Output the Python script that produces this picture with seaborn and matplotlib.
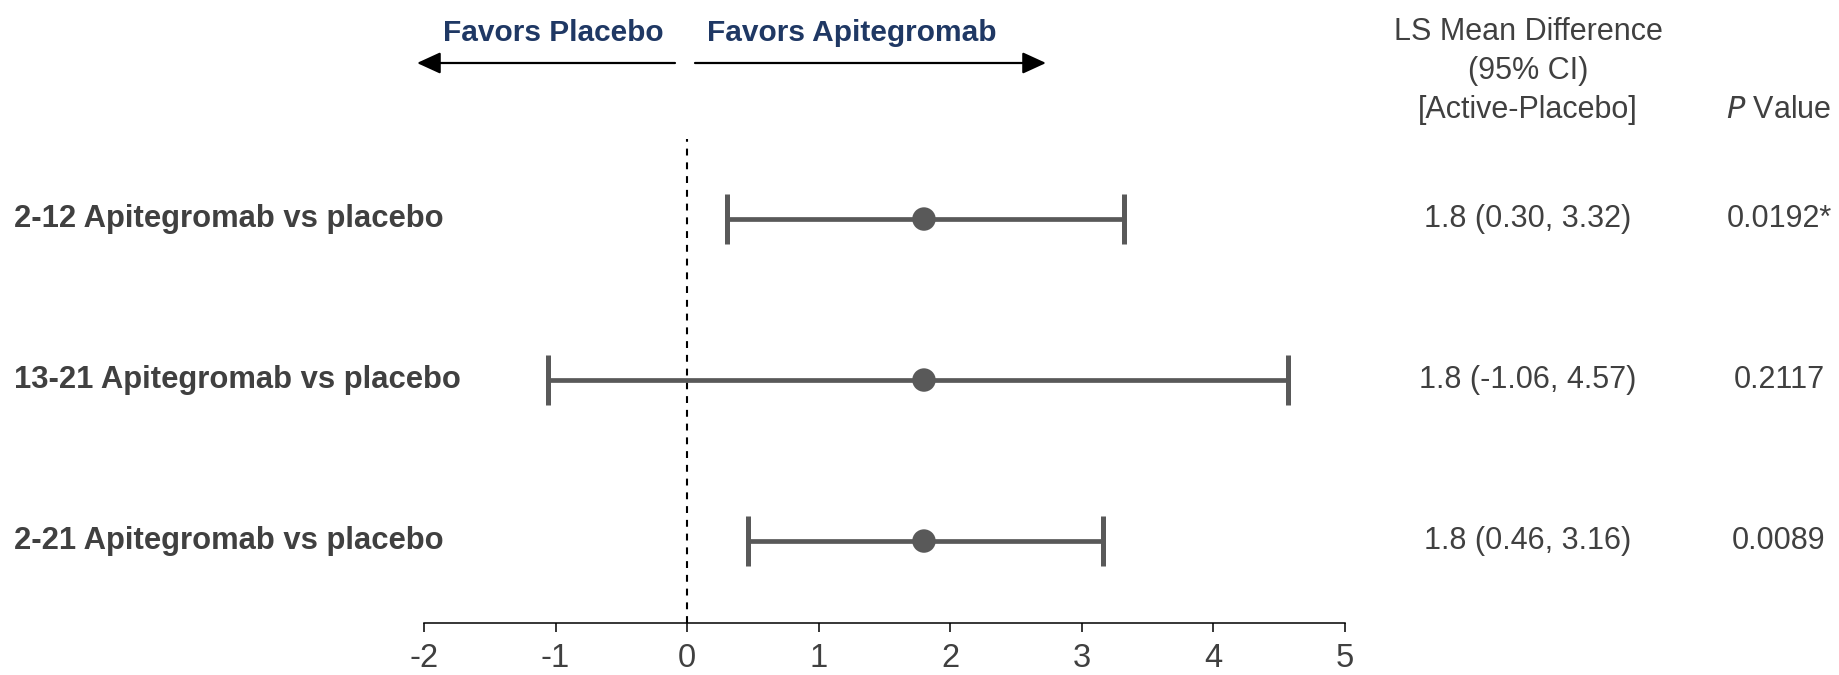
import numpy as np
import pandas as pd
import seaborn as sns
import matplotlib.pyplot as plt
import matplotlib.transforms as mtransforms

# forest plot data
labels = ["2-12 Apitegromab vs placebo",
          "13-21 Apitegromab vs placebo",
          "2-21 Apitegromab vs placebo"]
est = [1.8, 1.8, 1.8]
ci_lo = [0.30, -1.06, 0.46]
ci_hi = [3.32, 4.57, 3.16]
pvals = ["0.0192*", "0.2117", "0.0089"]
xticks = [-2, -1, 0, 1, 2, 3, 4, 5]

df = pd.DataFrame({"label": labels, "est": est, "lo": ci_lo, "hi": ci_hi, "p": pvals})
df["row"] = np.arange(len(df))

sns.set_theme(style="white")
plt.rcParams["font.family"] = ["Liberation Sans", "DejaVu Sans"]

W, H = 1840, 675
fig = plt.figure(figsize=(W / 100, H / 100), dpi=100)
ax = fig.add_axes([424 / W, 1 - 623 / H, (1345 - 424) / W, (623 - 139) / H])

grey = "#595959"
txt = "#404040"
navy = "#1F3864"

# CI bars + points
ax.errorbar(df["est"], df["row"],
            xerr=[df["est"] - df["lo"], df["hi"] - df["est"]],
            fmt="none", ecolor=grey, elinewidth=3.4, capsize=18, capthick=3.6, zorder=2)
sns.scatterplot(data=df, x="est", y="row", s=285, color=grey, edgecolor="none",
                zorder=3, ax=ax, legend=False)

ax.axvline(0, color="black", lw=1.5, linestyle=(0, (3.3, 3.3)), zorder=1)

ax.set_xlim(-2, 5)
ax.set_ylim(2.509, -0.497)
ax.set_xticks(xticks)
ax.set_xticklabels([str(t) for t in xticks])
ax.set_yticks([])
ax.set_xlabel("")
ax.set_ylabel("")
for s in ["top", "right", "left"]:
    ax.spines[s].set_visible(False)
ax.spines["bottom"].set_color("black")
ax.spines["bottom"].set_linewidth(1.1)
ax.tick_params(axis="x", direction="out", length=6.5, width=1.1, color="black",
               labelsize=23.5, labelcolor=txt, pad=8, bottom=True)

# row labels and right-hand columns
trans = mtransforms.blended_transform_factory(fig.transFigure, ax.transData)
for _, r in df.iterrows():
    ax.text(14 / W, r["row"], r["label"], transform=trans, ha="left", va="center",
            fontsize=22.3, fontweight="bold", color=txt)
    ax.text(1528 / W, r["row"], f"{r['est']:.1f} ({r['lo']:.2f}, {r['hi']:.2f})",
            transform=trans, ha="center", va="center", fontsize=22, color=txt)
    ax.text(1779 / W, r["row"], r["p"], transform=trans, ha="center", va="center",
            fontsize=22, color=txt)

# column headers
for yy, s in zip([32, 71, 110], ["LS Mean Difference", "(95% CI)", "[Active-Placebo]"]):
    fig.text(1528 / W, 1 - yy / H, s, ha="center", va="center", fontsize=22, color=txt)
fig.text(1779 / W, 1 - 110 / H, r"$\it{P}$ Value", ha="center", va="center",
         fontsize=22, color=txt)

# favors arrows
fig.text(553 / W, 1 - 33 / H, "Favors Placebo", ha="center", va="center",
         fontsize=21.5, fontweight="bold", color=navy)
fig.text(852 / W, 1 - 33 / H, "Favors Apitegromab", ha="center", va="center",
         fontsize=21.5, fontweight="bold", color=navy)
arrow = dict(arrowstyle="-|>,head_length=1.2,head_width=0.55", lw=1.6, color="black",
             shrinkA=0, shrinkB=0)
ax.annotate("", xy=(417, H - 63), xytext=(675, H - 63), xycoords="figure pixels",
            textcoords="figure pixels", arrowprops=arrow, annotation_clip=False)
ax.annotate("", xy=(1046, H - 63), xytext=(695, H - 63), xycoords="figure pixels",
            textcoords="figure pixels", arrowprops=arrow, annotation_clip=False)

fig.savefig("out.png", dpi=100)
